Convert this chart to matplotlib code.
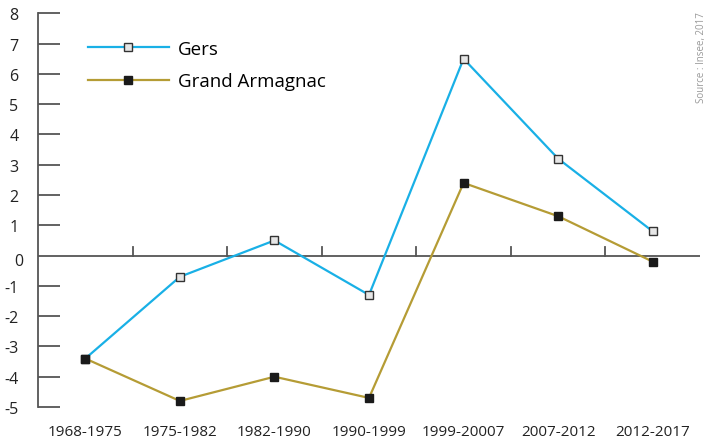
import numpy as np
import matplotlib.pyplot as plt

plt.rcParams['font.family'] = ['Open Sans', 'DejaVu Sans']

periods = ["1968-1975", "1975-1982", "1982-1990", "1990-1999",
           "1999-20007", "2007-2012", "2012-2017"]
gers = [-3.4, -0.7, 0.5, -1.3, 6.5, 3.2, 0.8]
grand_armagnac = [-3.4, -4.8, -4.0, -4.7, 2.4, 1.3, -0.2]
yticks = list(range(-5, 9))

blue = "#19b0e6"
gold = "#b59c35"
axis_col = "#555555"

fig = plt.figure(figsize=(7.08, 4.39), dpi=100)
ax = fig.add_axes([0.0537, 0.0706, 0.935, 0.8968])

x = np.arange(len(periods))
ax.plot(x, gers, color=blue, lw=1.6, marker="s", ms=5.5,
        mfc="#e6e6e6", mec="#333333", mew=1.0, label="Gers", zorder=3)
ax.plot(x, grand_armagnac, color=gold, lw=1.6, marker="s", ms=5.5,
        mfc="#1a1a1a", mec="#1a1a1a", label="Grand Armagnac", zorder=3)

ax.set_xlim(-0.5, 6.5)
ax.set_ylim(-5, 8)

# y axis: ticks pointing inwards
for s in ["top", "right", "bottom"]:
    ax.spines[s].set_visible(False)
ax.spines["left"].set_color(axis_col)
ax.spines["left"].set_linewidth(1.3)
ax.set_yticks([t for t in yticks if t != 0])
ax.set_yticklabels([str(t) for t in yticks if t != 0])
ax.tick_params(axis="y", direction="in", length=16, width=1.3,
               color=axis_col, labelsize=11.5, pad=14, labelcolor="#222222")
# zero label separately
ax.text(-0.5 - 0.155, -0.18, "0", ha="right", va="center",
        fontsize=11.5, color="#222222")

# x axis at zero with ticks upward between categories
ax.axhline(0, color=axis_col, lw=1.3, zorder=1)
for b in np.arange(0.5, 6.0, 1.0):
    ax.plot([b, b], [0, 0.3], color=axis_col, lw=1.3, zorder=1)
ax.set_xticks(x)
ax.set_xticklabels(periods)
ax.tick_params(axis="x", length=0, labelsize=11, pad=12, labelcolor="#222222")

leg = ax.legend(loc="upper left", bbox_to_anchor=(0.05, 0.975), frameon=False,
                fontsize=13.5, handlelength=4.3, handletextpad=0.5,
                labelspacing=0.75)

fig.text(0.999, 0.87, "Source : Insee, 2017", rotation=90, fontsize=7,
         color="#999999", ha="right", va="center")

fig.savefig("out.png", dpi=100)
